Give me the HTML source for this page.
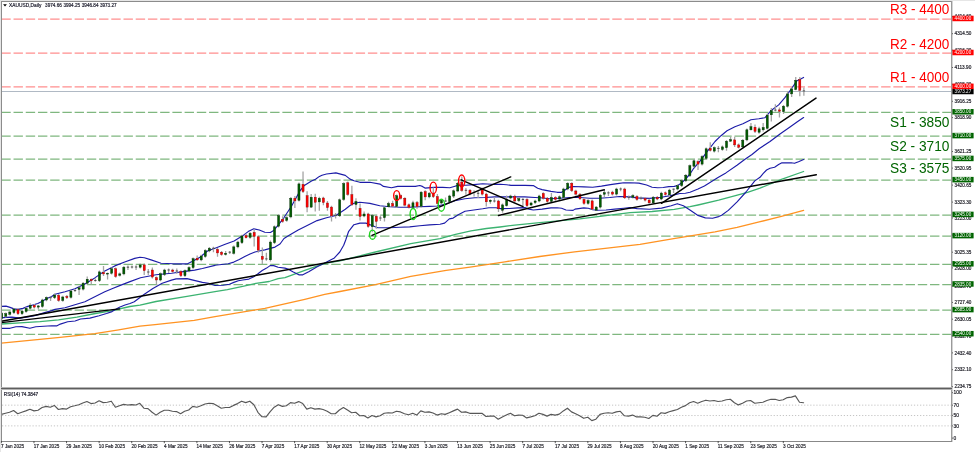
<!DOCTYPE html><html><head><meta charset="utf-8"><title>XAUUSD Daily</title><style>
html,body{margin:0;padding:0;background:#fff;}body{width:975px;height:452px;overflow:hidden;}
svg{display:block;}
text{font-family:"Liberation Sans",Arial,sans-serif;}.th{stroke:#1a1a2a;stroke-width:0.18px;}
.ax{font-size:4.9px;fill:#222;}
.bl{font-size:4.6px;fill:#fff;}
.dt{font-size:5.3px;fill:#222;}
.big{font-size:14.5px;}
</style></head><body>
<svg width="975" height="452" viewBox="0 0 975 452">
<rect x="0" y="0" width="975" height="452" fill="#fff"/>
<rect x="0" y="0" width="1" height="452" fill="#e6e6e6"/>
<rect x="0" y="0" width="975" height="1" fill="#e6e6e6"/>
<defs><clipPath id="cm"><rect x="1.5" y="1.5" width="950" height="386"/></clipPath><clipPath id="cr"><rect x="1.5" y="389.5" width="950" height="51.5"/></clipPath></defs>
<g clip-path="url(#cm)">
<line x1="1.3" y1="19.07" x2="951" y2="19.07" stroke="#ff8e8e" stroke-width="1.35" stroke-dasharray="9.4 2.82"/>
<line x1="1.3" y1="53.10" x2="951" y2="53.10" stroke="#ff8e8e" stroke-width="1.35" stroke-dasharray="9.4 2.82"/>
<line x1="1.3" y1="86.93" x2="951" y2="86.93" stroke="#ff8e8e" stroke-width="1.35" stroke-dasharray="9.4 2.82"/>
<line x1="1.3" y1="112.36" x2="951" y2="112.36" stroke="#7fb77f" stroke-width="1.25" stroke-dasharray="9.4 2.82"/>
<line x1="1.3" y1="136.20" x2="951" y2="136.20" stroke="#7fb77f" stroke-width="1.25" stroke-dasharray="9.4 2.82"/>
<line x1="1.3" y1="159.03" x2="951" y2="159.03" stroke="#7fb77f" stroke-width="1.25" stroke-dasharray="9.4 2.82"/>
<line x1="1.3" y1="180.24" x2="951" y2="180.24" stroke="#7fb77f" stroke-width="1.25" stroke-dasharray="9.4 2.82"/>
<line x1="1.3" y1="215.02" x2="951" y2="215.02" stroke="#7fb77f" stroke-width="1.25" stroke-dasharray="9.4 2.82"/>
<line x1="1.3" y1="236.22" x2="951" y2="236.22" stroke="#7fb77f" stroke-width="1.25" stroke-dasharray="9.4 2.82"/>
<line x1="1.3" y1="264.40" x2="951" y2="264.40" stroke="#7fb77f" stroke-width="1.25" stroke-dasharray="9.4 2.82"/>
<line x1="1.3" y1="284.57" x2="951" y2="284.57" stroke="#7fb77f" stroke-width="1.25" stroke-dasharray="9.4 2.82"/>
<line x1="1.3" y1="310.20" x2="951" y2="310.20" stroke="#7fb77f" stroke-width="1.25" stroke-dasharray="9.4 2.82"/>
<line x1="1.3" y1="334.30" x2="951" y2="334.30" stroke="#7fb77f" stroke-width="1.25" stroke-dasharray="9.4 2.82"/>
<line x1="1" y1="91.45" x2="951" y2="91.45" stroke="#b0b9c4" stroke-width="1.1"/>
<polyline points="1.3,343.1 39.8,339.3 60.0,337.3 94.8,333.6 118.7,329.8 130.0,327.8 140.0,326.2 155.0,324.6 194.2,320.3 215.0,316.6 245.0,311.7 264.9,308.3 284.8,303.8 304.8,299.3 324.7,294.4 340.0,291.5 375.4,284.6 410.8,276.3 446.2,270.4 470.0,267.1 504.9,261.8 539.7,256.5 574.6,251.8 609.5,247.8 640.0,244.3 673.7,238.6 715.0,231.8 737.1,227.4 759.2,221.9 781.4,216.3 803.6,210.4" fill="none" stroke="#ff9322" stroke-width="1.35" stroke-linejoin="round" stroke-linecap="round"/>
<polyline points="1.5,324.0 19.9,322.9 40.0,321.6 58.5,319.9 76.9,317.2 95.4,313.5 112.0,310.7 130.0,306.5 140.0,305.2 156.0,301.5 187.0,296.4 215.0,291.7 227.4,289.6 242.7,286.4 256.0,283.3 269.2,281.5 278.1,278.7 285.0,277.6 304.8,270.3 324.7,263.4 340.0,260.8 375.4,252.0 410.8,243.7 440.0,238.6 455.5,234.3 471.0,230.9 486.4,228.5 500.0,227.0 514.7,225.1 539.7,222.7 579.8,218.8 630.0,212.6 652.1,211.5 674.3,209.3 690.0,206.7 698.0,205.0 718.7,200.2 747.5,192.3 760.0,188.2 781.4,179.4 803.6,171.5" fill="none" stroke="#3cb371" stroke-width="1.3" stroke-linejoin="round" stroke-linecap="round"/>
<polyline points="1.5,328.3 10.0,328.3 15.9,326.8 21.9,326.6 29.9,328.3 35.8,326.8 43.8,326.3 51.7,325.8 56.6,325.9 60.3,324.1 67.7,321.8 75.1,321.0 80.6,319.0 89.9,318.1 99.1,315.8 106.5,313.5 112.0,311.6 119.4,307.2 125.0,305.0 130.0,303.5 134.3,301.8 143.6,294.8 152.9,288.6 162.2,283.2 171.5,280.1 176.1,278.9 187.0,278.6 193.1,280.1 202.4,282.4 208.6,283.2 215.0,285.5 223.0,285.3 229.4,284.2 233.8,282.4 238.3,280.7 242.7,280.0 248.9,279.1 253.3,277.1 257.7,274.0 262.2,270.5 266.6,268.1 270.1,265.6 273.7,265.6 278.1,267.2 285.0,268.1 288.0,269.0 292.8,271.8 298.8,274.8 302.8,274.8 308.7,271.8 316.7,266.9 324.7,262.9 334.4,257.9 339.8,252.0 343.7,245.3 345.7,240.0 348.5,231.7 353.9,224.7 359.9,223.1 365.9,223.1 371.9,225.5 377.8,227.7 389.8,227.7 399.8,227.3 409.7,226.9 419.7,225.7 429.6,224.9 440.0,224.3 444.6,223.1 449.3,218.9 453.2,218.1 457.8,215.0 465.0,211.3 473.8,210.0 482.7,208.8 488.9,207.7 496.0,207.7 500.4,208.6 509.2,208.5 518.1,207.9 525.0,207.6 528.8,209.1 533.3,210.0 542.1,209.1 551.0,207.9 557.2,207.7 561.6,208.2 566.0,210.0 573.1,210.4 575.0,209.1 583.8,207.9 588.3,208.2 592.7,209.7 597.1,210.2 606.0,210.0 614.8,209.1 623.7,208.2 630.0,207.6 637.2,208.6 649.3,209.3 661.5,208.1 671.2,205.7 677.3,203.7 683.4,205.7 690.7,210.6 698.0,215.4 705.3,217.9 712.6,218.3 718.7,216.6 721.6,215.2 728.3,210.4 737.1,201.9 746.0,192.0 754.8,180.9 760.0,177.3 763.3,173.3 766.6,170.0 770.0,168.3 774.6,167.3 778.6,164.6 781.9,162.8 786.5,162.8 791.2,162.8 794.5,163.3 798.5,161.7 803.6,159.5" fill="none" stroke="#1c1ca8" stroke-width="1.15" stroke-linejoin="round" stroke-linecap="round"/>
<polyline points="1.5,317.9 6.0,317.4 11.9,317.1 19.9,318.1 27.9,316.9 35.8,315.4 43.8,312.9 51.7,310.6 55.0,309.4 65.0,307.8 74.9,304.8 84.9,301.8 94.8,296.8 104.8,291.8 113.2,288.2 120.9,285.1 130.0,281.6 140.5,277.8 156.0,274.7 171.5,273.2 187.0,271.1 194.7,270.1 202.4,268.5 215.0,265.4 215.0,265.2 228.2,263.8 233.8,262.1 239.3,259.6 244.8,256.6 250.0,254.0 255.0,252.0 259.3,251.0 264.8,249.9 275.0,247.1 280.0,244.0 284.0,238.5 288.8,235.6 298.2,230.0 307.7,225.3 317.1,220.6 326.5,217.7 335.9,215.5 345.3,209.3 350.0,205.5 354.0,203.2 359.9,202.2 369.9,203.4 379.8,205.8 389.8,206.8 399.8,207.2 409.7,207.2 419.7,206.8 429.6,206.4 437.0,206.0 445.0,204.2 454.9,200.8 464.9,198.8 474.8,197.8 484.8,197.5 494.8,196.9 504.7,196.9 514.7,196.9 524.6,196.9 535.0,197.5 540.0,197.8 549.9,198.8 559.9,198.2 569.8,197.5 579.8,197.5 589.8,198.2 599.7,198.2 609.7,197.5 619.6,196.5 630.0,196.9 637.2,197.9 649.3,198.4 661.5,197.2 674.3,194.9 679.8,193.5 685.4,193.2 690.0,192.3 698.0,189.0 704.4,185.9 711.6,181.6 718.0,177.6 725.9,172.9 737.0,165.2 745.0,159.3 752.0,154.5 759.0,148.8 770.0,141.5 780.0,134.0 790.0,127.0 797.0,122.0 803.6,117.6" fill="none" stroke="#1c1ca8" stroke-width="1.15" stroke-linejoin="round" stroke-linecap="round"/>
<polyline points="1.5,306.4 6.0,306.1 10.0,307.4 14.0,308.9 17.9,309.4 22.9,308.4 27.9,306.4 32.8,305.0 37.8,303.5 41.8,301.5 46.8,298.5 51.7,296.5 55.0,294.2 65.0,291.8 74.9,288.8 84.9,283.9 94.8,277.9 104.8,270.9 114.8,265.9 124.7,262.0 134.7,258.4 140.0,257.2 144.4,257.7 151.1,259.9 161.0,263.3 173.2,263.8 187.6,263.8 192.0,261.6 200.0,257.2 207.5,251.0 216.4,247.7 225.2,244.3 234.1,241.0 243.8,234.9 248.2,231.6 253.8,228.8 259.3,230.0 264.8,232.2 270.4,232.5 273.7,230.5 276.9,226.6 283.9,217.8 291.6,206.0 295.6,198.7 300.3,190.3 304.3,185.5 308.3,183.1 311.5,181.1 315.5,179.2 319.4,176.4 322.0,175.2 326.5,174.0 335.9,172.9 345.3,175.4 350.0,179.1 354.0,180.8 359.9,182.3 369.9,182.3 380.0,184.1 383.5,186.4 391.5,187.7 397.7,186.4 406.5,186.4 415.4,186.4 419.8,185.5 422.4,186.4 425.0,188.1 433.8,187.4 442.7,187.4 449.8,187.8 454.2,186.5 457.7,185.4 462.1,185.0 466.0,185.2 473.8,184.6 482.7,183.8 491.5,184.3 500.4,184.3 506.6,184.7 511.0,185.4 518.1,185.4 525.0,185.4 533.3,185.6 537.7,188.3 542.1,189.6 551.0,191.4 557.2,192.3 561.6,192.3 565.1,190.0 568.7,187.4 573.1,186.5 583.8,186.9 592.7,187.2 601.5,186.1 610.4,184.6 619.2,183.4 623.7,182.8 630.0,182.8 638.9,183.1 646.6,185.0 652.1,187.2 657.7,187.7 663.2,187.5 668.8,186.6 674.3,186.4 677.6,185.5 682.0,182.7 686.0,178.5 690.0,174.0 693.1,169.2 700.4,160.7 707.7,150.9 715.0,141.5 721.0,135.7 727.0,130.8 734.9,126.8 742.9,123.8 750.9,119.8 758.8,118.8 764.8,117.8 770.8,110.8 778.7,104.9 784.7,97.9 790.7,89.9 796.7,81.0 803.6,77.4" fill="none" stroke="#1c1ca8" stroke-width="1.15" stroke-linejoin="round" stroke-linecap="round"/>
<line x1="1.70" y1="311.9" x2="1.70" y2="319.9" stroke="#a4a4a4" stroke-width="1.3"/>
<line x1="5.77" y1="312.4" x2="5.77" y2="317.6" stroke="#a4a4a4" stroke-width="1.3"/>
<line x1="9.84" y1="310.7" x2="9.84" y2="315.6" stroke="#a4a4a4" stroke-width="1.3"/>
<line x1="13.92" y1="308.2" x2="13.92" y2="313.9" stroke="#a4a4a4" stroke-width="1.3"/>
<line x1="17.99" y1="308.3" x2="17.99" y2="315.0" stroke="#a4a4a4" stroke-width="1.3"/>
<line x1="22.06" y1="309.9" x2="22.06" y2="315.0" stroke="#a4a4a4" stroke-width="1.3"/>
<line x1="26.13" y1="306.9" x2="26.13" y2="312.8" stroke="#a4a4a4" stroke-width="1.3"/>
<line x1="30.20" y1="303.2" x2="30.20" y2="309.5" stroke="#a4a4a4" stroke-width="1.3"/>
<line x1="34.28" y1="303.9" x2="34.28" y2="308.4" stroke="#a4a4a4" stroke-width="1.3"/>
<line x1="38.35" y1="305.2" x2="38.35" y2="309.4" stroke="#a4a4a4" stroke-width="1.3"/>
<line x1="42.42" y1="298.7" x2="42.42" y2="307.8" stroke="#a4a4a4" stroke-width="1.3"/>
<line x1="46.49" y1="296.4" x2="46.49" y2="301.3" stroke="#a4a4a4" stroke-width="1.3"/>
<line x1="50.56" y1="296.6" x2="50.56" y2="301.0" stroke="#a4a4a4" stroke-width="1.3"/>
<line x1="54.64" y1="293.5" x2="54.64" y2="299.0" stroke="#a4a4a4" stroke-width="1.3"/>
<line x1="58.71" y1="294.0" x2="58.71" y2="301.8" stroke="#a4a4a4" stroke-width="1.3"/>
<line x1="62.78" y1="295.7" x2="62.78" y2="301.8" stroke="#a4a4a4" stroke-width="1.3"/>
<line x1="66.85" y1="295.1" x2="66.85" y2="299.0" stroke="#a4a4a4" stroke-width="1.3"/>
<line x1="70.92" y1="289.7" x2="70.92" y2="298.6" stroke="#a4a4a4" stroke-width="1.3"/>
<line x1="75.00" y1="289.0" x2="75.00" y2="292.0" stroke="#a4a4a4" stroke-width="1.3"/>
<line x1="79.07" y1="286.5" x2="79.07" y2="295.0" stroke="#a4a4a4" stroke-width="1.3"/>
<line x1="83.14" y1="281.9" x2="83.14" y2="290.4" stroke="#a4a4a4" stroke-width="1.3"/>
<line x1="87.21" y1="276.5" x2="87.21" y2="284.5" stroke="#a4a4a4" stroke-width="1.3"/>
<line x1="91.28" y1="278.5" x2="91.28" y2="284.5" stroke="#a4a4a4" stroke-width="1.3"/>
<line x1="95.36" y1="278.5" x2="95.36" y2="281.8" stroke="#a4a4a4" stroke-width="1.3"/>
<line x1="99.43" y1="270.6" x2="99.43" y2="282.1" stroke="#a4a4a4" stroke-width="1.3"/>
<line x1="103.50" y1="266.0" x2="103.50" y2="276.0" stroke="#a4a4a4" stroke-width="1.3"/>
<line x1="107.57" y1="272.5" x2="107.57" y2="279.5" stroke="#a4a4a4" stroke-width="1.3"/>
<line x1="111.64" y1="267.5" x2="111.64" y2="274.5" stroke="#a4a4a4" stroke-width="1.3"/>
<line x1="115.72" y1="267.5" x2="115.72" y2="277.8" stroke="#a4a4a4" stroke-width="1.3"/>
<line x1="119.79" y1="272.6" x2="119.79" y2="276.5" stroke="#a4a4a4" stroke-width="1.3"/>
<line x1="123.86" y1="265.9" x2="123.86" y2="275.2" stroke="#a4a4a4" stroke-width="1.3"/>
<line x1="127.93" y1="265.6" x2="127.93" y2="269.9" stroke="#a4a4a4" stroke-width="1.3"/>
<line x1="132.00" y1="265.6" x2="132.00" y2="268.6" stroke="#a4a4a4" stroke-width="1.3"/>
<line x1="136.08" y1="265.3" x2="136.08" y2="269.9" stroke="#a4a4a4" stroke-width="1.3"/>
<line x1="140.15" y1="263.6" x2="140.15" y2="268.5" stroke="#a4a4a4" stroke-width="1.3"/>
<line x1="144.22" y1="263.6" x2="144.22" y2="275.0" stroke="#a4a4a4" stroke-width="1.3"/>
<line x1="148.29" y1="269.0" x2="148.29" y2="275.0" stroke="#a4a4a4" stroke-width="1.3"/>
<line x1="152.36" y1="267.6" x2="152.36" y2="278.5" stroke="#a4a4a4" stroke-width="1.3"/>
<line x1="156.44" y1="276.4" x2="156.44" y2="284.7" stroke="#a4a4a4" stroke-width="1.3"/>
<line x1="160.51" y1="272.5" x2="160.51" y2="281.3" stroke="#a4a4a4" stroke-width="1.3"/>
<line x1="164.58" y1="268.7" x2="164.58" y2="275.9" stroke="#a4a4a4" stroke-width="1.3"/>
<line x1="168.65" y1="268.4" x2="168.65" y2="273.0" stroke="#a4a4a4" stroke-width="1.3"/>
<line x1="172.72" y1="268.7" x2="172.72" y2="272.8" stroke="#a4a4a4" stroke-width="1.3"/>
<line x1="176.80" y1="268.4" x2="176.80" y2="273.8" stroke="#a4a4a4" stroke-width="1.3"/>
<line x1="180.87" y1="270.2" x2="180.87" y2="277.0" stroke="#a4a4a4" stroke-width="1.3"/>
<line x1="184.94" y1="269.4" x2="184.94" y2="277.0" stroke="#a4a4a4" stroke-width="1.3"/>
<line x1="189.01" y1="266.3" x2="189.01" y2="272.3" stroke="#a4a4a4" stroke-width="1.3"/>
<line x1="193.08" y1="257.4" x2="193.08" y2="268.9" stroke="#a4a4a4" stroke-width="1.3"/>
<line x1="197.16" y1="255.6" x2="197.16" y2="260.7" stroke="#a4a4a4" stroke-width="1.3"/>
<line x1="201.23" y1="254.7" x2="201.23" y2="261.2" stroke="#a4a4a4" stroke-width="1.3"/>
<line x1="205.30" y1="249.3" x2="205.30" y2="257.8" stroke="#a4a4a4" stroke-width="1.3"/>
<line x1="209.37" y1="247.0" x2="209.37" y2="252.2" stroke="#a4a4a4" stroke-width="1.3"/>
<line x1="213.44" y1="246.7" x2="213.44" y2="252.2" stroke="#a4a4a4" stroke-width="1.3"/>
<line x1="217.52" y1="248.1" x2="217.52" y2="256.8" stroke="#a4a4a4" stroke-width="1.3"/>
<line x1="221.59" y1="250.9" x2="221.59" y2="255.8" stroke="#a4a4a4" stroke-width="1.3"/>
<line x1="225.66" y1="251.0" x2="225.66" y2="255.5" stroke="#a4a4a4" stroke-width="1.3"/>
<line x1="229.73" y1="251.0" x2="229.73" y2="254.0" stroke="#a4a4a4" stroke-width="1.3"/>
<line x1="233.80" y1="245.6" x2="233.80" y2="254.6" stroke="#a4a4a4" stroke-width="1.3"/>
<line x1="237.88" y1="240.8" x2="237.88" y2="248.2" stroke="#a4a4a4" stroke-width="1.3"/>
<line x1="241.95" y1="234.7" x2="241.95" y2="244.0" stroke="#a4a4a4" stroke-width="1.3"/>
<line x1="246.02" y1="233.8" x2="246.02" y2="238.6" stroke="#a4a4a4" stroke-width="1.3"/>
<line x1="250.09" y1="232.0" x2="250.09" y2="238.7" stroke="#a4a4a4" stroke-width="1.3"/>
<line x1="254.16" y1="229.8" x2="254.16" y2="246.6" stroke="#a4a4a4" stroke-width="1.3"/>
<line x1="258.24" y1="235.5" x2="258.24" y2="252.8" stroke="#a4a4a4" stroke-width="1.3"/>
<line x1="262.31" y1="247.5" x2="262.31" y2="263.9" stroke="#a4a4a4" stroke-width="1.3"/>
<line x1="266.38" y1="252.8" x2="266.38" y2="260.7" stroke="#a4a4a4" stroke-width="1.3"/>
<line x1="270.45" y1="240.4" x2="270.45" y2="261.6" stroke="#a4a4a4" stroke-width="1.3"/>
<line x1="274.52" y1="225.5" x2="274.52" y2="244.0" stroke="#a4a4a4" stroke-width="1.3"/>
<line x1="278.60" y1="214.3" x2="278.60" y2="227.5" stroke="#a4a4a4" stroke-width="1.3"/>
<line x1="282.67" y1="216.2" x2="282.67" y2="222.7" stroke="#a4a4a4" stroke-width="1.3"/>
<line x1="286.74" y1="216.3" x2="286.74" y2="221.7" stroke="#a4a4a4" stroke-width="1.3"/>
<line x1="290.81" y1="197.0" x2="290.81" y2="218.2" stroke="#a4a4a4" stroke-width="1.3"/>
<line x1="294.88" y1="196.0" x2="294.88" y2="208.0" stroke="#a4a4a4" stroke-width="1.3"/>
<line x1="298.96" y1="182.6" x2="298.96" y2="201.6" stroke="#a4a4a4" stroke-width="1.3"/>
<line x1="303.03" y1="171.5" x2="303.03" y2="192.9" stroke="#a4a4a4" stroke-width="1.3"/>
<line x1="307.10" y1="191.3" x2="307.10" y2="212.2" stroke="#a4a4a4" stroke-width="1.3"/>
<line x1="311.17" y1="194.1" x2="311.17" y2="208.0" stroke="#a4a4a4" stroke-width="1.3"/>
<line x1="315.24" y1="193.7" x2="315.24" y2="211.5" stroke="#a4a4a4" stroke-width="1.3"/>
<line x1="319.32" y1="196.7" x2="319.32" y2="210.7" stroke="#a4a4a4" stroke-width="1.3"/>
<line x1="323.39" y1="196.7" x2="323.39" y2="205.3" stroke="#a4a4a4" stroke-width="1.3"/>
<line x1="327.46" y1="200.9" x2="327.46" y2="210.7" stroke="#a4a4a4" stroke-width="1.3"/>
<line x1="331.53" y1="205.8" x2="331.53" y2="221.5" stroke="#a4a4a4" stroke-width="1.3"/>
<line x1="335.60" y1="213.0" x2="335.60" y2="218.4" stroke="#a4a4a4" stroke-width="1.3"/>
<line x1="339.68" y1="198.5" x2="339.68" y2="217.1" stroke="#a4a4a4" stroke-width="1.3"/>
<line x1="343.75" y1="182.3" x2="343.75" y2="200.7" stroke="#a4a4a4" stroke-width="1.3"/>
<line x1="347.82" y1="181.5" x2="347.82" y2="195.7" stroke="#a4a4a4" stroke-width="1.3"/>
<line x1="351.89" y1="185.8" x2="351.89" y2="206.0" stroke="#a4a4a4" stroke-width="1.3"/>
<line x1="355.96" y1="198.2" x2="355.96" y2="209.8" stroke="#a4a4a4" stroke-width="1.3"/>
<line x1="360.04" y1="203.5" x2="360.04" y2="220.6" stroke="#a4a4a4" stroke-width="1.3"/>
<line x1="364.11" y1="211.4" x2="364.11" y2="217.2" stroke="#a4a4a4" stroke-width="1.3"/>
<line x1="368.18" y1="212.7" x2="368.18" y2="227.7" stroke="#a4a4a4" stroke-width="1.3"/>
<line x1="372.25" y1="213.9" x2="372.25" y2="232.2" stroke="#a4a4a4" stroke-width="1.3"/>
<line x1="376.32" y1="214.8" x2="376.32" y2="228.8" stroke="#a4a4a4" stroke-width="1.3"/>
<line x1="380.40" y1="215.6" x2="380.40" y2="221.0" stroke="#a4a4a4" stroke-width="1.3"/>
<line x1="384.47" y1="206.5" x2="384.47" y2="221.4" stroke="#a4a4a4" stroke-width="1.3"/>
<line x1="388.54" y1="201.8" x2="388.54" y2="207.3" stroke="#a4a4a4" stroke-width="1.3"/>
<line x1="392.61" y1="200.7" x2="392.61" y2="207.3" stroke="#a4a4a4" stroke-width="1.3"/>
<line x1="396.68" y1="194.5" x2="396.68" y2="207.8" stroke="#a4a4a4" stroke-width="1.3"/>
<line x1="400.76" y1="194.4" x2="400.76" y2="199.5" stroke="#a4a4a4" stroke-width="1.3"/>
<line x1="404.83" y1="197.3" x2="404.83" y2="206.5" stroke="#a4a4a4" stroke-width="1.3"/>
<line x1="408.90" y1="203.5" x2="408.90" y2="208.6" stroke="#a4a4a4" stroke-width="1.3"/>
<line x1="412.97" y1="200.7" x2="412.97" y2="209.0" stroke="#a4a4a4" stroke-width="1.3"/>
<line x1="417.04" y1="201.0" x2="417.04" y2="208.8" stroke="#a4a4a4" stroke-width="1.3"/>
<line x1="421.12" y1="190.9" x2="421.12" y2="207.5" stroke="#a4a4a4" stroke-width="1.3"/>
<line x1="425.19" y1="190.2" x2="425.19" y2="200.3" stroke="#a4a4a4" stroke-width="1.3"/>
<line x1="429.26" y1="192.0" x2="429.26" y2="198.2" stroke="#a4a4a4" stroke-width="1.3"/>
<line x1="433.33" y1="187.4" x2="433.33" y2="198.0" stroke="#a4a4a4" stroke-width="1.3"/>
<line x1="437.40" y1="194.0" x2="437.40" y2="204.3" stroke="#a4a4a4" stroke-width="1.3"/>
<line x1="441.48" y1="199.0" x2="441.48" y2="204.3" stroke="#a4a4a4" stroke-width="1.3"/>
<line x1="445.55" y1="197.5" x2="445.55" y2="202.0" stroke="#a4a4a4" stroke-width="1.3"/>
<line x1="449.62" y1="194.7" x2="449.62" y2="202.9" stroke="#a4a4a4" stroke-width="1.3"/>
<line x1="453.69" y1="189.5" x2="453.69" y2="198.0" stroke="#a4a4a4" stroke-width="1.3"/>
<line x1="457.76" y1="182.0" x2="457.76" y2="192.3" stroke="#a4a4a4" stroke-width="1.3"/>
<line x1="461.84" y1="176.5" x2="461.84" y2="191.8" stroke="#a4a4a4" stroke-width="1.3"/>
<line x1="465.91" y1="187.9" x2="465.91" y2="194.8" stroke="#a4a4a4" stroke-width="1.3"/>
<line x1="469.98" y1="188.9" x2="469.98" y2="195.2" stroke="#a4a4a4" stroke-width="1.3"/>
<line x1="474.05" y1="190.2" x2="474.05" y2="196.4" stroke="#a4a4a4" stroke-width="1.3"/>
<line x1="478.12" y1="190.2" x2="478.12" y2="198.0" stroke="#a4a4a4" stroke-width="1.3"/>
<line x1="482.20" y1="187.4" x2="482.20" y2="195.4" stroke="#a4a4a4" stroke-width="1.3"/>
<line x1="486.27" y1="192.8" x2="486.27" y2="206.5" stroke="#a4a4a4" stroke-width="1.3"/>
<line x1="490.34" y1="199.2" x2="490.34" y2="203.8" stroke="#a4a4a4" stroke-width="1.3"/>
<line x1="494.41" y1="197.2" x2="494.41" y2="202.6" stroke="#a4a4a4" stroke-width="1.3"/>
<line x1="498.48" y1="199.7" x2="498.48" y2="211.9" stroke="#a4a4a4" stroke-width="1.3"/>
<line x1="502.56" y1="203.4" x2="502.56" y2="212.7" stroke="#a4a4a4" stroke-width="1.3"/>
<line x1="506.63" y1="195.6" x2="506.63" y2="206.5" stroke="#a4a4a4" stroke-width="1.3"/>
<line x1="510.70" y1="194.7" x2="510.70" y2="199.3" stroke="#a4a4a4" stroke-width="1.3"/>
<line x1="514.77" y1="194.8" x2="514.77" y2="201.8" stroke="#a4a4a4" stroke-width="1.3"/>
<line x1="518.84" y1="197.4" x2="518.84" y2="201.9" stroke="#a4a4a4" stroke-width="1.3"/>
<line x1="522.92" y1="198.0" x2="522.92" y2="206.5" stroke="#a4a4a4" stroke-width="1.3"/>
<line x1="526.99" y1="198.2" x2="526.99" y2="207.0" stroke="#a4a4a4" stroke-width="1.3"/>
<line x1="531.06" y1="201.7" x2="531.06" y2="206.3" stroke="#a4a4a4" stroke-width="1.3"/>
<line x1="535.13" y1="199.7" x2="535.13" y2="203.9" stroke="#a4a4a4" stroke-width="1.3"/>
<line x1="539.20" y1="194.7" x2="539.20" y2="202.3" stroke="#a4a4a4" stroke-width="1.3"/>
<line x1="543.28" y1="192.2" x2="543.28" y2="199.5" stroke="#a4a4a4" stroke-width="1.3"/>
<line x1="547.35" y1="197.0" x2="547.35" y2="202.7" stroke="#a4a4a4" stroke-width="1.3"/>
<line x1="551.42" y1="192.9" x2="551.42" y2="202.2" stroke="#a4a4a4" stroke-width="1.3"/>
<line x1="555.49" y1="196.2" x2="555.49" y2="200.7" stroke="#a4a4a4" stroke-width="1.3"/>
<line x1="559.56" y1="195.5" x2="559.56" y2="200.3" stroke="#a4a4a4" stroke-width="1.3"/>
<line x1="563.64" y1="187.7" x2="563.64" y2="198.8" stroke="#a4a4a4" stroke-width="1.3"/>
<line x1="567.71" y1="182.3" x2="567.71" y2="190.3" stroke="#a4a4a4" stroke-width="1.3"/>
<line x1="571.78" y1="182.3" x2="571.78" y2="191.9" stroke="#a4a4a4" stroke-width="1.3"/>
<line x1="575.85" y1="189.7" x2="575.85" y2="195.4" stroke="#a4a4a4" stroke-width="1.3"/>
<line x1="579.92" y1="192.9" x2="579.92" y2="199.9" stroke="#a4a4a4" stroke-width="1.3"/>
<line x1="584.00" y1="198.1" x2="584.00" y2="204.7" stroke="#a4a4a4" stroke-width="1.3"/>
<line x1="588.07" y1="199.3" x2="588.07" y2="204.7" stroke="#a4a4a4" stroke-width="1.3"/>
<line x1="592.14" y1="199.6" x2="592.14" y2="209.9" stroke="#a4a4a4" stroke-width="1.3"/>
<line x1="596.21" y1="206.0" x2="596.21" y2="210.7" stroke="#a4a4a4" stroke-width="1.3"/>
<line x1="600.28" y1="193.9" x2="600.28" y2="208.4" stroke="#a4a4a4" stroke-width="1.3"/>
<line x1="604.36" y1="189.8" x2="604.36" y2="197.2" stroke="#a4a4a4" stroke-width="1.3"/>
<line x1="608.43" y1="191.3" x2="608.43" y2="196.0" stroke="#a4a4a4" stroke-width="1.3"/>
<line x1="612.50" y1="190.8" x2="612.50" y2="195.4" stroke="#a4a4a4" stroke-width="1.3"/>
<line x1="616.57" y1="187.7" x2="616.57" y2="195.4" stroke="#a4a4a4" stroke-width="1.3"/>
<line x1="620.64" y1="187.5" x2="620.64" y2="191.3" stroke="#a4a4a4" stroke-width="1.3"/>
<line x1="624.72" y1="187.7" x2="624.72" y2="199.1" stroke="#a4a4a4" stroke-width="1.3"/>
<line x1="628.79" y1="195.6" x2="628.79" y2="199.8" stroke="#a4a4a4" stroke-width="1.3"/>
<line x1="632.86" y1="194.3" x2="632.86" y2="198.6" stroke="#a4a4a4" stroke-width="1.3"/>
<line x1="636.93" y1="195.2" x2="636.93" y2="200.7" stroke="#a4a4a4" stroke-width="1.3"/>
<line x1="641.00" y1="196.5" x2="641.00" y2="199.8" stroke="#a4a4a4" stroke-width="1.3"/>
<line x1="645.08" y1="197.2" x2="645.08" y2="201.4" stroke="#a4a4a4" stroke-width="1.3"/>
<line x1="649.15" y1="198.8" x2="649.15" y2="204.1" stroke="#a4a4a4" stroke-width="1.3"/>
<line x1="653.22" y1="196.0" x2="653.22" y2="204.1" stroke="#a4a4a4" stroke-width="1.3"/>
<line x1="657.29" y1="196.0" x2="657.29" y2="200.3" stroke="#a4a4a4" stroke-width="1.3"/>
<line x1="661.36" y1="191.8" x2="661.36" y2="200.3" stroke="#a4a4a4" stroke-width="1.3"/>
<line x1="665.44" y1="191.5" x2="665.44" y2="195.8" stroke="#a4a4a4" stroke-width="1.3"/>
<line x1="669.51" y1="188.8" x2="669.51" y2="196.1" stroke="#a4a4a4" stroke-width="1.3"/>
<line x1="673.58" y1="188.5" x2="673.58" y2="193.1" stroke="#a4a4a4" stroke-width="1.3"/>
<line x1="677.65" y1="184.4" x2="677.65" y2="190.3" stroke="#a4a4a4" stroke-width="1.3"/>
<line x1="681.72" y1="179.4" x2="681.72" y2="187.0" stroke="#a4a4a4" stroke-width="1.3"/>
<line x1="685.80" y1="173.9" x2="685.80" y2="182.0" stroke="#a4a4a4" stroke-width="1.3"/>
<line x1="689.87" y1="164.4" x2="689.87" y2="177.0" stroke="#a4a4a4" stroke-width="1.3"/>
<line x1="693.94" y1="159.1" x2="693.94" y2="167.5" stroke="#a4a4a4" stroke-width="1.3"/>
<line x1="698.01" y1="160.3" x2="698.01" y2="169.9" stroke="#a4a4a4" stroke-width="1.3"/>
<line x1="702.08" y1="155.3" x2="702.08" y2="165.4" stroke="#a4a4a4" stroke-width="1.3"/>
<line x1="706.16" y1="147.5" x2="706.16" y2="159.7" stroke="#a4a4a4" stroke-width="1.3"/>
<line x1="710.23" y1="142.2" x2="710.23" y2="151.5" stroke="#a4a4a4" stroke-width="1.3"/>
<line x1="714.30" y1="146.4" x2="714.30" y2="152.4" stroke="#a4a4a4" stroke-width="1.3"/>
<line x1="718.37" y1="146.1" x2="718.37" y2="152.3" stroke="#a4a4a4" stroke-width="1.3"/>
<line x1="722.44" y1="145.6" x2="722.44" y2="150.8" stroke="#a4a4a4" stroke-width="1.3"/>
<line x1="726.52" y1="139.9" x2="726.52" y2="150.8" stroke="#a4a4a4" stroke-width="1.3"/>
<line x1="730.59" y1="136.8" x2="730.59" y2="141.5" stroke="#a4a4a4" stroke-width="1.3"/>
<line x1="734.66" y1="136.8" x2="734.66" y2="146.9" stroke="#a4a4a4" stroke-width="1.3"/>
<line x1="738.73" y1="143.6" x2="738.73" y2="148.6" stroke="#a4a4a4" stroke-width="1.3"/>
<line x1="742.80" y1="138.9" x2="742.80" y2="148.2" stroke="#a4a4a4" stroke-width="1.3"/>
<line x1="746.88" y1="128.5" x2="746.88" y2="141.2" stroke="#a4a4a4" stroke-width="1.3"/>
<line x1="750.95" y1="122.9" x2="750.95" y2="130.6" stroke="#a4a4a4" stroke-width="1.3"/>
<line x1="755.02" y1="124.4" x2="755.02" y2="132.9" stroke="#a4a4a4" stroke-width="1.3"/>
<line x1="759.09" y1="126.7" x2="759.09" y2="133.7" stroke="#a4a4a4" stroke-width="1.3"/>
<line x1="763.16" y1="122.9" x2="763.16" y2="131.4" stroke="#a4a4a4" stroke-width="1.3"/>
<line x1="767.24" y1="113.8" x2="767.24" y2="129.6" stroke="#a4a4a4" stroke-width="1.3"/>
<line x1="771.31" y1="108.1" x2="771.31" y2="121.4" stroke="#a4a4a4" stroke-width="1.3"/>
<line x1="775.38" y1="104.2" x2="775.38" y2="111.5" stroke="#a4a4a4" stroke-width="1.3"/>
<line x1="779.45" y1="107.5" x2="779.45" y2="117.4" stroke="#a4a4a4" stroke-width="1.3"/>
<line x1="783.52" y1="104.9" x2="783.52" y2="114.1" stroke="#a4a4a4" stroke-width="1.3"/>
<line x1="787.60" y1="91.5" x2="787.60" y2="107.5" stroke="#a4a4a4" stroke-width="1.3"/>
<line x1="791.67" y1="86.9" x2="791.67" y2="96.9" stroke="#a4a4a4" stroke-width="1.3"/>
<line x1="795.74" y1="77.0" x2="795.74" y2="90.2" stroke="#a4a4a4" stroke-width="1.3"/>
<line x1="799.81" y1="77.0" x2="799.81" y2="96.2" stroke="#a4a4a4" stroke-width="1.3"/>
<line x1="803.88" y1="87.6" x2="803.88" y2="95.8" stroke="#a4a4a4" stroke-width="1.3"/>
<rect x="0.65" y="313.2" width="2.1" height="5.4" fill="#005c00" stroke="#002800" stroke-width="0.4"/>
<rect x="4.72" y="313.7" width="2.1" height="2.6" fill="#005c00" stroke="#002800" stroke-width="0.4"/>
<rect x="8.79" y="312.0" width="2.1" height="2.3" fill="#005c00" stroke="#002800" stroke-width="0.4"/>
<rect x="12.87" y="309.0" width="2.1" height="3.6" fill="#005c00" stroke="#002800" stroke-width="0.4"/>
<rect x="16.94" y="309.6" width="2.1" height="4.1" fill="#ff0000" stroke="#8a0000" stroke-width="0.4"/>
<rect x="21.01" y="311.2" width="2.1" height="2.5" fill="#005c00" stroke="#002800" stroke-width="0.4"/>
<rect x="25.08" y="308.2" width="2.1" height="3.3" fill="#005c00" stroke="#002800" stroke-width="0.4"/>
<rect x="29.15" y="305.2" width="2.1" height="3.0" fill="#005c00" stroke="#002800" stroke-width="0.4"/>
<rect x="33.23" y="305.2" width="2.1" height="1.9" fill="#ff0000" stroke="#8a0000" stroke-width="0.4"/>
<rect x="37.30" y="305.9" width="2.1" height="1.2" fill="#005c00" stroke="#002800" stroke-width="0.4"/>
<rect x="41.37" y="300.0" width="2.1" height="6.5" fill="#005c00" stroke="#002800" stroke-width="0.4"/>
<rect x="45.44" y="297.5" width="2.1" height="2.5" fill="#005c00" stroke="#002800" stroke-width="0.4"/>
<line x1="49.36" y1="297.7" x2="51.76" y2="297.7" stroke="#333" stroke-width="0.8"/>
<rect x="53.59" y="295.0" width="2.1" height="2.7" fill="#005c00" stroke="#002800" stroke-width="0.4"/>
<rect x="57.66" y="295.3" width="2.1" height="5.2" fill="#ff0000" stroke="#8a0000" stroke-width="0.4"/>
<rect x="61.73" y="297.0" width="2.1" height="3.5" fill="#005c00" stroke="#002800" stroke-width="0.4"/>
<rect x="65.80" y="296.4" width="2.1" height="1.3" fill="#ff0000" stroke="#8a0000" stroke-width="0.4"/>
<rect x="69.87" y="291.0" width="2.1" height="6.3" fill="#005c00" stroke="#002800" stroke-width="0.4"/>
<line x1="73.80" y1="290.5" x2="76.20" y2="290.5" stroke="#333" stroke-width="0.8"/>
<rect x="78.02" y="287.8" width="2.1" height="1.6" fill="#005c00" stroke="#002800" stroke-width="0.4"/>
<rect x="82.09" y="283.2" width="2.1" height="5.9" fill="#005c00" stroke="#002800" stroke-width="0.4"/>
<rect x="86.16" y="279.2" width="2.1" height="4.0" fill="#005c00" stroke="#002800" stroke-width="0.4"/>
<rect x="90.23" y="279.4" width="2.1" height="1.4" fill="#ff0000" stroke="#8a0000" stroke-width="0.4"/>
<line x1="94.16" y1="280.5" x2="96.56" y2="280.5" stroke="#333" stroke-width="0.8"/>
<rect x="98.38" y="271.9" width="2.1" height="8.9" fill="#005c00" stroke="#002800" stroke-width="0.4"/>
<rect x="102.45" y="272.3" width="2.1" height="1.6" fill="#ff0000" stroke="#8a0000" stroke-width="0.4"/>
<rect x="106.52" y="273.2" width="2.1" height="0.9" fill="#005c00" stroke="#002800" stroke-width="0.4"/>
<rect x="110.59" y="268.8" width="2.1" height="4.4" fill="#005c00" stroke="#002800" stroke-width="0.4"/>
<rect x="114.67" y="268.8" width="2.1" height="7.7" fill="#ff0000" stroke="#8a0000" stroke-width="0.4"/>
<rect x="118.74" y="273.9" width="2.1" height="1.3" fill="#005c00" stroke="#002800" stroke-width="0.4"/>
<rect x="122.81" y="267.2" width="2.1" height="6.7" fill="#005c00" stroke="#002800" stroke-width="0.4"/>
<line x1="126.73" y1="267.2" x2="129.13" y2="267.2" stroke="#333" stroke-width="0.8"/>
<line x1="130.80" y1="267.0" x2="133.20" y2="267.0" stroke="#333" stroke-width="0.8"/>
<line x1="134.88" y1="267.0" x2="137.28" y2="267.0" stroke="#333" stroke-width="0.8"/>
<rect x="139.10" y="264.9" width="2.1" height="2.3" fill="#005c00" stroke="#002800" stroke-width="0.4"/>
<rect x="143.17" y="264.9" width="2.1" height="5.7" fill="#ff0000" stroke="#8a0000" stroke-width="0.4"/>
<line x1="147.09" y1="272.0" x2="149.49" y2="272.0" stroke="#333" stroke-width="0.8"/>
<rect x="151.31" y="270.0" width="2.1" height="7.0" fill="#ff0000" stroke="#8a0000" stroke-width="0.4"/>
<rect x="155.39" y="277.7" width="2.1" height="2.3" fill="#ff0000" stroke="#8a0000" stroke-width="0.4"/>
<rect x="159.46" y="273.8" width="2.1" height="6.2" fill="#005c00" stroke="#002800" stroke-width="0.4"/>
<rect x="163.53" y="270.0" width="2.1" height="4.6" fill="#005c00" stroke="#002800" stroke-width="0.4"/>
<line x1="167.45" y1="270.0" x2="169.85" y2="270.0" stroke="#333" stroke-width="0.8"/>
<rect x="171.67" y="270.0" width="2.1" height="1.5" fill="#ff0000" stroke="#8a0000" stroke-width="0.4"/>
<line x1="175.60" y1="271.0" x2="178.00" y2="271.0" stroke="#333" stroke-width="0.8"/>
<rect x="179.82" y="271.5" width="2.1" height="4.2" fill="#ff0000" stroke="#8a0000" stroke-width="0.4"/>
<rect x="183.89" y="270.7" width="2.1" height="5.0" fill="#005c00" stroke="#002800" stroke-width="0.4"/>
<rect x="187.96" y="267.6" width="2.1" height="3.4" fill="#005c00" stroke="#002800" stroke-width="0.4"/>
<rect x="192.03" y="258.7" width="2.1" height="8.9" fill="#005c00" stroke="#002800" stroke-width="0.4"/>
<rect x="196.11" y="258.3" width="2.1" height="1.6" fill="#ff0000" stroke="#8a0000" stroke-width="0.4"/>
<rect x="200.18" y="256.0" width="2.1" height="3.9" fill="#005c00" stroke="#002800" stroke-width="0.4"/>
<rect x="204.25" y="250.6" width="2.1" height="5.9" fill="#005c00" stroke="#002800" stroke-width="0.4"/>
<rect x="208.32" y="248.3" width="2.1" height="2.6" fill="#005c00" stroke="#002800" stroke-width="0.4"/>
<line x1="212.24" y1="248.3" x2="214.64" y2="248.3" stroke="#333" stroke-width="0.8"/>
<rect x="216.47" y="249.4" width="2.1" height="3.5" fill="#ff0000" stroke="#8a0000" stroke-width="0.4"/>
<rect x="220.54" y="252.2" width="2.1" height="2.3" fill="#ff0000" stroke="#8a0000" stroke-width="0.4"/>
<rect x="224.61" y="253.2" width="2.1" height="1.4" fill="#005c00" stroke="#002800" stroke-width="0.4"/>
<line x1="228.53" y1="252.2" x2="230.93" y2="252.2" stroke="#333" stroke-width="0.8"/>
<rect x="232.75" y="246.9" width="2.1" height="6.4" fill="#005c00" stroke="#002800" stroke-width="0.4"/>
<rect x="236.83" y="242.1" width="2.1" height="4.8" fill="#005c00" stroke="#002800" stroke-width="0.4"/>
<rect x="240.90" y="236.0" width="2.1" height="6.7" fill="#005c00" stroke="#002800" stroke-width="0.4"/>
<rect x="244.97" y="235.6" width="2.1" height="2.1" fill="#ff0000" stroke="#8a0000" stroke-width="0.4"/>
<rect x="249.04" y="233.3" width="2.1" height="4.1" fill="#005c00" stroke="#002800" stroke-width="0.4"/>
<rect x="253.11" y="232.4" width="2.1" height="3.9" fill="#ff0000" stroke="#8a0000" stroke-width="0.4"/>
<rect x="257.19" y="236.8" width="2.1" height="13.3" fill="#ff0000" stroke="#8a0000" stroke-width="0.4"/>
<rect x="261.26" y="256.3" width="2.1" height="3.0" fill="#ff0000" stroke="#8a0000" stroke-width="0.4"/>
<line x1="265.18" y1="258.9" x2="267.58" y2="258.9" stroke="#333" stroke-width="0.8"/>
<rect x="269.40" y="242.1" width="2.1" height="17.7" fill="#005c00" stroke="#002800" stroke-width="0.4"/>
<rect x="273.47" y="226.8" width="2.1" height="15.9" fill="#005c00" stroke="#002800" stroke-width="0.4"/>
<rect x="277.55" y="215.6" width="2.1" height="10.6" fill="#005c00" stroke="#002800" stroke-width="0.4"/>
<rect x="281.62" y="219.2" width="2.1" height="2.3" fill="#ff0000" stroke="#8a0000" stroke-width="0.4"/>
<rect x="285.69" y="217.6" width="2.1" height="2.8" fill="#005c00" stroke="#002800" stroke-width="0.4"/>
<rect x="289.76" y="198.3" width="2.1" height="18.6" fill="#005c00" stroke="#002800" stroke-width="0.4"/>
<rect x="293.83" y="198.3" width="2.1" height="2.6" fill="#ff0000" stroke="#8a0000" stroke-width="0.4"/>
<rect x="297.91" y="183.9" width="2.1" height="16.4" fill="#005c00" stroke="#002800" stroke-width="0.4"/>
<rect x="301.98" y="184.4" width="2.1" height="7.2" fill="#ff0000" stroke="#8a0000" stroke-width="0.4"/>
<rect x="306.05" y="195.7" width="2.1" height="11.4" fill="#ff0000" stroke="#8a0000" stroke-width="0.4"/>
<rect x="310.12" y="197.2" width="2.1" height="9.9" fill="#005c00" stroke="#002800" stroke-width="0.4"/>
<rect x="314.19" y="197.2" width="2.1" height="5.0" fill="#ff0000" stroke="#8a0000" stroke-width="0.4"/>
<rect x="318.27" y="198.3" width="2.1" height="3.6" fill="#005c00" stroke="#002800" stroke-width="0.4"/>
<rect x="322.34" y="198.0" width="2.1" height="4.5" fill="#ff0000" stroke="#8a0000" stroke-width="0.4"/>
<rect x="326.41" y="203.0" width="2.1" height="4.6" fill="#ff0000" stroke="#8a0000" stroke-width="0.4"/>
<rect x="330.48" y="207.1" width="2.1" height="8.7" fill="#ff0000" stroke="#8a0000" stroke-width="0.4"/>
<line x1="334.40" y1="215.3" x2="336.80" y2="215.3" stroke="#333" stroke-width="0.8"/>
<rect x="338.63" y="199.8" width="2.1" height="16.0" fill="#005c00" stroke="#002800" stroke-width="0.4"/>
<rect x="342.70" y="183.6" width="2.1" height="15.8" fill="#005c00" stroke="#002800" stroke-width="0.4"/>
<rect x="346.77" y="182.8" width="2.1" height="11.6" fill="#ff0000" stroke="#8a0000" stroke-width="0.4"/>
<rect x="350.84" y="194.6" width="2.1" height="10.0" fill="#ff0000" stroke="#8a0000" stroke-width="0.4"/>
<rect x="354.91" y="201.5" width="2.1" height="3.0" fill="#005c00" stroke="#002800" stroke-width="0.4"/>
<rect x="358.99" y="208.4" width="2.1" height="8.0" fill="#ff0000" stroke="#8a0000" stroke-width="0.4"/>
<rect x="363.06" y="214.0" width="2.1" height="2.0" fill="#005c00" stroke="#002800" stroke-width="0.4"/>
<rect x="367.13" y="214.0" width="2.1" height="12.4" fill="#ff0000" stroke="#8a0000" stroke-width="0.4"/>
<rect x="371.20" y="215.6" width="2.1" height="11.1" fill="#005c00" stroke="#002800" stroke-width="0.4"/>
<rect x="375.27" y="216.4" width="2.1" height="5.0" fill="#ff0000" stroke="#8a0000" stroke-width="0.4"/>
<line x1="379.20" y1="218.0" x2="381.60" y2="218.0" stroke="#333" stroke-width="0.8"/>
<rect x="383.42" y="207.8" width="2.1" height="9.9" fill="#005c00" stroke="#002800" stroke-width="0.4"/>
<rect x="387.49" y="203.5" width="2.1" height="3.3" fill="#005c00" stroke="#002800" stroke-width="0.4"/>
<rect x="391.56" y="203.5" width="2.1" height="2.6" fill="#ff0000" stroke="#8a0000" stroke-width="0.4"/>
<rect x="395.63" y="195.7" width="2.1" height="10.8" fill="#005c00" stroke="#002800" stroke-width="0.4"/>
<rect x="399.71" y="195.7" width="2.1" height="2.5" fill="#ff0000" stroke="#8a0000" stroke-width="0.4"/>
<rect x="403.78" y="198.2" width="2.1" height="6.9" fill="#ff0000" stroke="#8a0000" stroke-width="0.4"/>
<rect x="407.85" y="204.8" width="2.1" height="2.5" fill="#ff0000" stroke="#8a0000" stroke-width="0.4"/>
<rect x="411.92" y="202.8" width="2.1" height="4.5" fill="#005c00" stroke="#002800" stroke-width="0.4"/>
<rect x="415.99" y="202.6" width="2.1" height="3.9" fill="#ff0000" stroke="#8a0000" stroke-width="0.4"/>
<rect x="420.07" y="192.2" width="2.1" height="14.0" fill="#005c00" stroke="#002800" stroke-width="0.4"/>
<rect x="424.14" y="191.7" width="2.1" height="5.2" fill="#ff0000" stroke="#8a0000" stroke-width="0.4"/>
<rect x="428.21" y="193.3" width="2.1" height="3.6" fill="#005c00" stroke="#002800" stroke-width="0.4"/>
<rect x="432.28" y="193.1" width="2.1" height="3.6" fill="#ff0000" stroke="#8a0000" stroke-width="0.4"/>
<rect x="436.35" y="196.6" width="2.1" height="7.0" fill="#ff0000" stroke="#8a0000" stroke-width="0.4"/>
<rect x="440.43" y="200.3" width="2.1" height="2.7" fill="#005c00" stroke="#002800" stroke-width="0.4"/>
<line x1="444.35" y1="201.0" x2="446.75" y2="201.0" stroke="#333" stroke-width="0.8"/>
<rect x="448.57" y="196.0" width="2.1" height="5.6" fill="#005c00" stroke="#002800" stroke-width="0.4"/>
<rect x="452.64" y="190.8" width="2.1" height="5.3" fill="#005c00" stroke="#002800" stroke-width="0.4"/>
<rect x="456.71" y="183.3" width="2.1" height="7.7" fill="#005c00" stroke="#002800" stroke-width="0.4"/>
<rect x="460.79" y="182.0" width="2.1" height="8.5" fill="#ff0000" stroke="#8a0000" stroke-width="0.4"/>
<line x1="464.71" y1="190.3" x2="467.11" y2="190.3" stroke="#333" stroke-width="0.8"/>
<rect x="468.93" y="190.2" width="2.1" height="3.7" fill="#ff0000" stroke="#8a0000" stroke-width="0.4"/>
<line x1="472.85" y1="192.5" x2="475.25" y2="192.5" stroke="#333" stroke-width="0.8"/>
<line x1="476.92" y1="193.3" x2="479.32" y2="193.3" stroke="#333" stroke-width="0.8"/>
<rect x="481.15" y="188.7" width="2.1" height="5.4" fill="#ff0000" stroke="#8a0000" stroke-width="0.4"/>
<rect x="485.22" y="194.1" width="2.1" height="7.7" fill="#ff0000" stroke="#8a0000" stroke-width="0.4"/>
<rect x="489.29" y="200.2" width="2.1" height="1.4" fill="#005c00" stroke="#002800" stroke-width="0.4"/>
<line x1="493.21" y1="201.0" x2="495.61" y2="201.0" stroke="#333" stroke-width="0.8"/>
<rect x="497.43" y="201.0" width="2.1" height="7.8" fill="#ff0000" stroke="#8a0000" stroke-width="0.4"/>
<rect x="501.51" y="204.9" width="2.1" height="5.4" fill="#005c00" stroke="#002800" stroke-width="0.4"/>
<rect x="505.58" y="199.5" width="2.1" height="6.2" fill="#005c00" stroke="#002800" stroke-width="0.4"/>
<rect x="509.65" y="196.0" width="2.1" height="2.0" fill="#005c00" stroke="#002800" stroke-width="0.4"/>
<rect x="513.72" y="196.4" width="2.1" height="4.6" fill="#ff0000" stroke="#8a0000" stroke-width="0.4"/>
<rect x="517.79" y="198.7" width="2.1" height="1.9" fill="#005c00" stroke="#002800" stroke-width="0.4"/>
<line x1="521.72" y1="199.5" x2="524.12" y2="199.5" stroke="#333" stroke-width="0.8"/>
<rect x="525.94" y="199.5" width="2.1" height="6.2" fill="#ff0000" stroke="#8a0000" stroke-width="0.4"/>
<rect x="530.01" y="203.0" width="2.1" height="2.0" fill="#005c00" stroke="#002800" stroke-width="0.4"/>
<rect x="534.08" y="201.0" width="2.1" height="1.6" fill="#005c00" stroke="#002800" stroke-width="0.4"/>
<rect x="538.15" y="196.0" width="2.1" height="5.0" fill="#005c00" stroke="#002800" stroke-width="0.4"/>
<rect x="542.23" y="193.5" width="2.1" height="4.7" fill="#ff0000" stroke="#8a0000" stroke-width="0.4"/>
<rect x="546.30" y="198.3" width="2.1" height="3.1" fill="#ff0000" stroke="#8a0000" stroke-width="0.4"/>
<rect x="550.37" y="197.5" width="2.1" height="3.9" fill="#005c00" stroke="#002800" stroke-width="0.4"/>
<rect x="554.44" y="197.5" width="2.1" height="1.9" fill="#ff0000" stroke="#8a0000" stroke-width="0.4"/>
<rect x="558.51" y="196.8" width="2.1" height="2.2" fill="#005c00" stroke="#002800" stroke-width="0.4"/>
<rect x="562.59" y="189.0" width="2.1" height="8.5" fill="#005c00" stroke="#002800" stroke-width="0.4"/>
<rect x="566.66" y="183.3" width="2.1" height="5.7" fill="#005c00" stroke="#002800" stroke-width="0.4"/>
<rect x="570.73" y="183.3" width="2.1" height="7.3" fill="#ff0000" stroke="#8a0000" stroke-width="0.4"/>
<rect x="574.80" y="191.0" width="2.1" height="3.1" fill="#ff0000" stroke="#8a0000" stroke-width="0.4"/>
<rect x="578.87" y="194.4" width="2.1" height="4.4" fill="#ff0000" stroke="#8a0000" stroke-width="0.4"/>
<rect x="582.95" y="199.4" width="2.1" height="4.0" fill="#ff0000" stroke="#8a0000" stroke-width="0.4"/>
<rect x="587.02" y="200.6" width="2.1" height="2.8" fill="#005c00" stroke="#002800" stroke-width="0.4"/>
<rect x="591.09" y="200.9" width="2.1" height="8.2" fill="#ff0000" stroke="#8a0000" stroke-width="0.4"/>
<rect x="595.16" y="207.1" width="2.1" height="3.1" fill="#005c00" stroke="#002800" stroke-width="0.4"/>
<rect x="599.23" y="195.2" width="2.1" height="11.9" fill="#005c00" stroke="#002800" stroke-width="0.4"/>
<rect x="603.31" y="192.7" width="2.1" height="1.5" fill="#005c00" stroke="#002800" stroke-width="0.4"/>
<line x1="607.23" y1="192.9" x2="609.63" y2="192.9" stroke="#333" stroke-width="0.8"/>
<rect x="611.45" y="192.1" width="2.1" height="2.0" fill="#ff0000" stroke="#8a0000" stroke-width="0.4"/>
<rect x="615.52" y="189.0" width="2.1" height="5.1" fill="#005c00" stroke="#002800" stroke-width="0.4"/>
<line x1="619.44" y1="189.0" x2="621.84" y2="189.0" stroke="#333" stroke-width="0.8"/>
<rect x="623.67" y="189.0" width="2.1" height="8.8" fill="#ff0000" stroke="#8a0000" stroke-width="0.4"/>
<line x1="627.59" y1="197.3" x2="629.99" y2="197.3" stroke="#333" stroke-width="0.8"/>
<rect x="631.81" y="195.6" width="2.1" height="1.7" fill="#005c00" stroke="#002800" stroke-width="0.4"/>
<rect x="635.88" y="196.5" width="2.1" height="2.9" fill="#ff0000" stroke="#8a0000" stroke-width="0.4"/>
<line x1="639.80" y1="198.2" x2="642.20" y2="198.2" stroke="#333" stroke-width="0.8"/>
<rect x="644.03" y="198.5" width="2.1" height="1.6" fill="#ff0000" stroke="#8a0000" stroke-width="0.4"/>
<rect x="648.10" y="200.1" width="2.1" height="2.7" fill="#ff0000" stroke="#8a0000" stroke-width="0.4"/>
<rect x="652.17" y="197.3" width="2.1" height="5.5" fill="#005c00" stroke="#002800" stroke-width="0.4"/>
<rect x="656.24" y="197.3" width="2.1" height="1.7" fill="#ff0000" stroke="#8a0000" stroke-width="0.4"/>
<rect x="660.31" y="193.1" width="2.1" height="5.9" fill="#005c00" stroke="#002800" stroke-width="0.4"/>
<rect x="664.39" y="192.8" width="2.1" height="1.7" fill="#ff0000" stroke="#8a0000" stroke-width="0.4"/>
<rect x="668.46" y="190.1" width="2.1" height="4.7" fill="#005c00" stroke="#002800" stroke-width="0.4"/>
<line x1="672.38" y1="189.2" x2="674.78" y2="189.2" stroke="#333" stroke-width="0.8"/>
<rect x="676.60" y="185.7" width="2.1" height="3.3" fill="#005c00" stroke="#002800" stroke-width="0.4"/>
<rect x="680.67" y="180.7" width="2.1" height="5.0" fill="#005c00" stroke="#002800" stroke-width="0.4"/>
<rect x="684.75" y="175.2" width="2.1" height="5.5" fill="#005c00" stroke="#002800" stroke-width="0.4"/>
<rect x="688.82" y="165.7" width="2.1" height="10.0" fill="#005c00" stroke="#002800" stroke-width="0.4"/>
<rect x="692.89" y="160.8" width="2.1" height="5.4" fill="#005c00" stroke="#002800" stroke-width="0.4"/>
<rect x="696.96" y="161.6" width="2.1" height="2.5" fill="#ff0000" stroke="#8a0000" stroke-width="0.4"/>
<rect x="701.03" y="156.6" width="2.1" height="7.5" fill="#005c00" stroke="#002800" stroke-width="0.4"/>
<rect x="705.11" y="148.8" width="2.1" height="9.6" fill="#005c00" stroke="#002800" stroke-width="0.4"/>
<rect x="709.18" y="148.4" width="2.1" height="2.0" fill="#ff0000" stroke="#8a0000" stroke-width="0.4"/>
<rect x="713.25" y="147.7" width="2.1" height="3.4" fill="#005c00" stroke="#002800" stroke-width="0.4"/>
<line x1="717.17" y1="148.4" x2="719.57" y2="148.4" stroke="#333" stroke-width="0.8"/>
<rect x="721.39" y="146.9" width="2.1" height="2.6" fill="#005c00" stroke="#002800" stroke-width="0.4"/>
<rect x="725.47" y="141.2" width="2.1" height="6.5" fill="#005c00" stroke="#002800" stroke-width="0.4"/>
<rect x="729.54" y="139.6" width="2.1" height="1.6" fill="#005c00" stroke="#002800" stroke-width="0.4"/>
<rect x="733.61" y="139.9" width="2.1" height="5.0" fill="#ff0000" stroke="#8a0000" stroke-width="0.4"/>
<rect x="737.68" y="144.9" width="2.1" height="2.4" fill="#ff0000" stroke="#8a0000" stroke-width="0.4"/>
<rect x="741.75" y="140.2" width="2.1" height="6.7" fill="#005c00" stroke="#002800" stroke-width="0.4"/>
<rect x="745.83" y="129.8" width="2.1" height="10.1" fill="#005c00" stroke="#002800" stroke-width="0.4"/>
<rect x="749.90" y="126.7" width="2.1" height="3.1" fill="#005c00" stroke="#002800" stroke-width="0.4"/>
<rect x="753.97" y="127.2" width="2.1" height="4.2" fill="#ff0000" stroke="#8a0000" stroke-width="0.4"/>
<rect x="758.04" y="128.8" width="2.1" height="3.4" fill="#005c00" stroke="#002800" stroke-width="0.4"/>
<rect x="762.11" y="127.5" width="2.1" height="2.3" fill="#005c00" stroke="#002800" stroke-width="0.4"/>
<rect x="766.19" y="115.1" width="2.1" height="13.2" fill="#005c00" stroke="#002800" stroke-width="0.4"/>
<rect x="770.26" y="110.5" width="2.1" height="4.3" fill="#005c00" stroke="#002800" stroke-width="0.4"/>
<line x1="774.18" y1="110.1" x2="776.58" y2="110.1" stroke="#333" stroke-width="0.8"/>
<rect x="778.40" y="109.9" width="2.1" height="1.3" fill="#ff0000" stroke="#8a0000" stroke-width="0.4"/>
<rect x="782.47" y="106.2" width="2.1" height="5.5" fill="#005c00" stroke="#002800" stroke-width="0.4"/>
<rect x="786.55" y="93.9" width="2.1" height="12.3" fill="#005c00" stroke="#002800" stroke-width="0.4"/>
<rect x="790.62" y="88.9" width="2.1" height="5.0" fill="#005c00" stroke="#002800" stroke-width="0.4"/>
<rect x="794.69" y="80.3" width="2.1" height="9.3" fill="#005c00" stroke="#002800" stroke-width="0.4"/>
<rect x="798.76" y="79.6" width="2.1" height="10.6" fill="#ff0000" stroke="#8a0000" stroke-width="0.4"/>
<line x1="802.68" y1="90.9" x2="805.08" y2="90.9" stroke="#333" stroke-width="0.8"/>
<line x1="1.3" y1="321.2" x2="816.3" y2="174.7" stroke="#000" stroke-width="1.45" stroke-linecap="round"/>
<line x1="1.3" y1="322.6" x2="119.4" y2="308.9" stroke="#000" stroke-width="1.45" stroke-linecap="round"/>
<line x1="372" y1="235.4" x2="510.7" y2="176.9" stroke="#000" stroke-width="1.45" stroke-linecap="round"/>
<line x1="461.2" y1="179.8" x2="523" y2="206.6" stroke="#000" stroke-width="1.45" stroke-linecap="round"/>
<line x1="498.5" y1="215.5" x2="604.3" y2="189.8" stroke="#000" stroke-width="1.45" stroke-linecap="round"/>
<line x1="661.5" y1="203.3" x2="816" y2="98.1" stroke="#000" stroke-width="1.45" stroke-linecap="round"/>
<ellipse cx="372.5" cy="234.7" rx="3" ry="4.6" fill="none" stroke="#1fd41f" stroke-width="1.4"/>
<ellipse cx="396.7" cy="195.6" rx="3" ry="5" fill="none" stroke="#ff0000" stroke-width="1.4"/>
<ellipse cx="413.1" cy="214" rx="3" ry="5.5" fill="none" stroke="#1fd41f" stroke-width="1.4"/>
<ellipse cx="433.3" cy="187.9" rx="3.2" ry="5.8" fill="none" stroke="#ff0000" stroke-width="1.4"/>
<ellipse cx="441.4" cy="205.2" rx="3.2" ry="6" fill="none" stroke="#1fd41f" stroke-width="1.4"/>
<ellipse cx="461.7" cy="181" rx="3.1" ry="6" fill="none" stroke="#ff0000" stroke-width="1.4"/>
<text class="big" x="949.4" y="14.2" text-anchor="end" fill="#ff0000" textLength="59.4" lengthAdjust="spacingAndGlyphs">R3 - 4400</text>
<text class="big" x="949.4" y="49.4" text-anchor="end" fill="#ff0000" textLength="59.4" lengthAdjust="spacingAndGlyphs">R2 - 4200</text>
<text class="big" x="949.4" y="82.0" text-anchor="end" fill="#ff0000" textLength="59.4" lengthAdjust="spacingAndGlyphs">R1 - 4000</text>
<text class="big" x="949.4" y="127.4" text-anchor="end" fill="#006400" textLength="59.4" lengthAdjust="spacingAndGlyphs">S1 - 3850</text>
<text class="big" x="949.4" y="150.6" text-anchor="end" fill="#006400" textLength="59.4" lengthAdjust="spacingAndGlyphs">S2 - 3710</text>
<text class="big" x="949.4" y="173.3" text-anchor="end" fill="#006400" textLength="59.4" lengthAdjust="spacingAndGlyphs">S3 - 3575</text>
<path d="M3.1,4.2 L6.9,4.2 L5,6.4 Z" fill="#000"/>
<text class="th" x="9.1" y="7.0" style="font-size:5px;fill:#1a1a2a" textLength="32.2" lengthAdjust="spacingAndGlyphs">XAUUSD,Daily</text>
<text class="th" x="45.1" y="7.0" style="font-size:5px;fill:#1a1a2a" textLength="16.7" lengthAdjust="spacingAndGlyphs">3974.66</text>
<text class="th" x="63.4" y="7.0" style="font-size:5px;fill:#1a1a2a" textLength="16.7" lengthAdjust="spacingAndGlyphs">3994.25</text>
<text class="th" x="81.8" y="7.0" style="font-size:5px;fill:#1a1a2a" textLength="16.7" lengthAdjust="spacingAndGlyphs">3946.84</text>
<text class="th" x="99.9" y="7.0" style="font-size:5px;fill:#1a1a2a" textLength="16.7" lengthAdjust="spacingAndGlyphs">3973.27</text>
</g>
<g clip-path="url(#cr)">
<line x1="2" y1="405.17" x2="951" y2="405.17" stroke="#bdbdbd" stroke-width="0.9" stroke-dasharray="1.2 1.85"/>
<line x1="2" y1="415.52" x2="951" y2="415.52" stroke="#bdbdbd" stroke-width="0.9" stroke-dasharray="1.2 1.85"/>
<line x1="2" y1="425.88" x2="951" y2="425.88" stroke="#bdbdbd" stroke-width="0.9" stroke-dasharray="1.2 1.85"/>
<polyline points="1.4,414.4 5.5,413.3 9.5,412.3 13.6,410.5 17.7,413.7 21.8,412.3 25.8,410.9 29.9,409.3 34.0,410.9 38.0,410.2 42.1,407.5 46.2,406.4 50.3,407.2 54.3,405.4 58.4,409.5 62.5,408.6 66.6,409.1 70.6,406.8 74.7,405.8 78.8,404.7 82.8,403.0 86.9,401.5 91.0,403.6 95.1,403.0 99.1,400.8 103.2,402.6 107.3,402.2 111.3,401.2 115.4,407.2 119.5,405.8 123.6,404.4 127.6,405.0 131.7,404.6 135.8,405.0 139.8,403.3 143.9,408.2 148.0,408.6 152.1,412.3 156.1,415.1 160.2,412.3 164.3,410.2 168.4,410.2 172.4,411.3 176.5,411.6 180.6,413.7 184.6,411.3 188.7,410.0 192.8,406.4 196.9,407.2 200.9,405.8 205.0,404.0 209.1,403.3 213.1,403.6 217.2,405.8 221.3,408.2 225.4,407.5 229.4,407.5 233.5,405.4 237.6,403.6 241.6,401.2 245.7,402.6 249.8,401.2 253.9,404.7 257.9,412.3 262.0,416.8 266.1,416.9 270.2,411.6 274.2,407.2 278.3,404.7 282.4,406.4 286.4,405.8 290.5,402.6 294.6,403.3 298.7,401.6 302.7,403.6 306.8,409.1 310.9,407.7 314.9,409.1 319.0,408.6 323.1,409.5 327.2,411.3 331.2,413.7 335.3,413.7 339.4,410.0 343.4,407.5 347.5,410.0 351.6,412.7 355.7,412.3 359.7,415.8 363.8,415.5 367.9,417.9 372.0,415.5 376.0,416.9 380.1,415.8 384.2,413.3 388.2,412.7 392.3,413.0 396.4,411.3 400.5,411.9 404.5,413.7 408.6,414.7 412.7,413.3 416.7,415.1 420.8,410.9 424.9,412.3 429.0,411.9 433.0,413.0 437.1,415.1 441.2,413.7 445.2,414.4 449.3,412.7 453.4,410.9 457.5,409.1 461.5,412.3 465.6,411.9 469.7,413.3 473.8,413.3 477.8,413.3 481.9,413.3 486.0,416.5 490.0,416.1 494.1,416.1 498.2,419.2 502.3,416.9 506.3,415.1 510.4,413.3 514.5,415.8 518.5,415.1 522.6,415.3 526.7,417.9 530.8,416.9 534.8,415.8 538.9,413.3 543.0,414.4 547.0,416.1 551.1,414.4 555.2,415.1 559.3,414.1 563.3,410.9 567.4,408.2 571.5,411.9 575.6,413.7 579.6,415.8 583.7,418.3 587.8,417.2 591.8,420.6 595.9,419.2 600.0,414.4 604.1,413.3 608.1,412.7 612.2,413.3 616.3,411.9 620.3,411.3 624.4,415.8 628.5,416.1 632.6,415.1 636.6,416.9 640.7,416.9 644.8,417.2 648.8,418.5 652.9,415.4 657.0,416.2 661.1,412.8 665.1,413.4 669.2,411.7 673.3,410.6 677.4,409.5 681.4,407.3 685.5,405.6 689.6,402.7 693.6,401.5 697.7,403.2 701.8,401.5 705.9,400.2 709.9,401.0 714.0,400.5 718.1,401.5 722.1,401.0 726.2,399.8 730.3,399.3 734.4,402.7 738.4,404.9 742.5,403.2 746.6,401.0 750.6,400.5 754.7,403.2 758.8,402.7 762.9,402.2 766.9,400.5 771.0,399.3 775.1,399.3 779.2,400.5 783.2,399.8 787.3,397.6 791.4,397.1 795.4,395.9 799.5,402.2 803.6,402.7" fill="none" stroke="#575757" stroke-width="1.15" stroke-linejoin="round" stroke-linecap="round"/>
<text class="th" x="3.8" y="395.6" style="font-size:5.2px;fill:#1a1a2a" textLength="34.4" lengthAdjust="spacingAndGlyphs">RSI(14) 74.3847</text>
</g>
<rect x="1" y="1" width="951" height="1" fill="#8c8c8c"/>
<rect x="1" y="1" width="1" height="441" fill="#8c8c8c"/>
<rect x="951" y="1" width="1" height="441" fill="#9a9a9a"/>
<rect x="952" y="1" width="1" height="441" fill="#d4d4d4"/>
<rect x="1" y="387" width="951" height="1" fill="#b4b4b4"/>
<rect x="1" y="388" width="951" height="1" fill="#5e5e5e"/>
<rect x="1" y="389" width="951" height="1" fill="#b4b4b4"/>
<rect x="1" y="441" width="951" height="1" fill="#888888"/>
<line x1="952" y1="33.7" x2="953" y2="33.7" stroke="#444" stroke-width="0.8"/>
<text class="ax th" x="954.6" y="35.4" textLength="16.7" lengthAdjust="spacingAndGlyphs">4314.50</text>
<line x1="952" y1="67.5" x2="953" y2="67.5" stroke="#444" stroke-width="0.8"/>
<text class="ax th" x="954.6" y="69.2" textLength="16.7" lengthAdjust="spacingAndGlyphs">4113.90</text>
<line x1="952" y1="101.3" x2="953" y2="101.3" stroke="#444" stroke-width="0.8"/>
<text class="ax th" x="954.6" y="103.0" textLength="16.7" lengthAdjust="spacingAndGlyphs">3916.25</text>
<line x1="952" y1="117.6" x2="953" y2="117.6" stroke="#444" stroke-width="0.8"/>
<text class="ax th" x="954.6" y="119.3" textLength="16.7" lengthAdjust="spacingAndGlyphs">3818.90</text>
<line x1="952" y1="151.5" x2="953" y2="151.5" stroke="#444" stroke-width="0.8"/>
<text class="ax th" x="954.6" y="153.2" textLength="16.7" lengthAdjust="spacingAndGlyphs">3621.25</text>
<line x1="952" y1="168.1" x2="953" y2="168.1" stroke="#444" stroke-width="0.8"/>
<text class="ax th" x="954.6" y="169.8" textLength="16.7" lengthAdjust="spacingAndGlyphs">3520.95</text>
<line x1="952" y1="185.1" x2="953" y2="185.1" stroke="#444" stroke-width="0.8"/>
<text class="ax th" x="954.6" y="186.8" textLength="16.7" lengthAdjust="spacingAndGlyphs">3420.65</text>
<line x1="952" y1="202.1" x2="953" y2="202.1" stroke="#444" stroke-width="0.8"/>
<text class="ax th" x="954.6" y="203.8" textLength="16.7" lengthAdjust="spacingAndGlyphs">3323.30</text>
<line x1="952" y1="218.0" x2="953" y2="218.0" stroke="#444" stroke-width="0.8"/>
<text class="ax th" x="954.6" y="219.7" textLength="16.7" lengthAdjust="spacingAndGlyphs">3223.00</text>
<line x1="952" y1="252.2" x2="953" y2="252.2" stroke="#444" stroke-width="0.8"/>
<text class="ax th" x="954.6" y="253.9" textLength="16.7" lengthAdjust="spacingAndGlyphs">3025.35</text>
<line x1="952" y1="267.9" x2="953" y2="267.9" stroke="#444" stroke-width="0.8"/>
<text class="ax th" x="954.6" y="269.6" textLength="16.7" lengthAdjust="spacingAndGlyphs">2928.00</text>
<line x1="952" y1="286.0" x2="953" y2="286.0" stroke="#444" stroke-width="0.8"/>
<text class="ax th" x="954.6" y="287.7" textLength="16.7" lengthAdjust="spacingAndGlyphs">2830.70</text>
<line x1="952" y1="302.4" x2="953" y2="302.4" stroke="#444" stroke-width="0.8"/>
<text class="ax th" x="954.6" y="304.1" textLength="16.7" lengthAdjust="spacingAndGlyphs">2727.40</text>
<line x1="952" y1="319.2" x2="953" y2="319.2" stroke="#444" stroke-width="0.8"/>
<text class="ax th" x="954.6" y="320.9" textLength="16.7" lengthAdjust="spacingAndGlyphs">2630.05</text>
<line x1="952" y1="336.0" x2="953" y2="336.0" stroke="#444" stroke-width="0.8"/>
<text class="ax th" x="954.6" y="337.7" textLength="16.7" lengthAdjust="spacingAndGlyphs">2532.70</text>
<line x1="952" y1="352.9" x2="953" y2="352.9" stroke="#444" stroke-width="0.8"/>
<text class="ax th" x="954.6" y="354.6" textLength="16.7" lengthAdjust="spacingAndGlyphs">2432.40</text>
<line x1="952" y1="369.7" x2="953" y2="369.7" stroke="#444" stroke-width="0.8"/>
<text class="ax th" x="954.6" y="371.4" textLength="16.7" lengthAdjust="spacingAndGlyphs">2332.10</text>
<line x1="952" y1="386.7" x2="953" y2="386.7" stroke="#444" stroke-width="0.8"/>
<text class="ax th" x="954.6" y="388.4" textLength="16.7" lengthAdjust="spacingAndGlyphs">2234.75</text>
<line x1="952" y1="16.6" x2="953" y2="16.6" stroke="#444" stroke-width="0.8"/>
<text class="ax th" x="954.6" y="18.3" textLength="16.7" lengthAdjust="spacingAndGlyphs">4414.60</text>
<line x1="952" y1="50.2" x2="953" y2="50.2" stroke="#444" stroke-width="0.8"/>
<text class="ax th" x="954.6" y="51.9" textLength="16.7" lengthAdjust="spacingAndGlyphs">4216.20</text>
<line x1="952" y1="84.3" x2="953" y2="84.3" stroke="#444" stroke-width="0.8"/>
<text class="ax th" x="954.6" y="86.0" textLength="16.7" lengthAdjust="spacingAndGlyphs">4015.20</text>
<line x1="952" y1="235.0" x2="953" y2="235.0" stroke="#444" stroke-width="0.8"/>
<text class="ax th" x="954.6" y="236.7" textLength="16.7" lengthAdjust="spacingAndGlyphs">3125.00</text>
<rect x="952.4" y="88.75" width="21.2" height="5.5" fill="#000000"/>
<text class="bl" x="954.6" y="93.10" textLength="16.6" lengthAdjust="spacingAndGlyphs">3973.27</text>
<rect x="952.4" y="15.72" width="21.2" height="5.5" fill="#ff0000"/>
<text class="bl" x="954.6" y="20.07" textLength="16.6" lengthAdjust="spacingAndGlyphs">4400.00</text>
<rect x="952.4" y="49.75" width="21.2" height="5.5" fill="#ff0000"/>
<text class="bl" x="954.6" y="54.10" textLength="16.6" lengthAdjust="spacingAndGlyphs">4200.00</text>
<rect x="952.4" y="83.58" width="21.2" height="5.5" fill="#ff0000"/>
<text class="bl" x="954.6" y="87.93" textLength="16.6" lengthAdjust="spacingAndGlyphs">4000.00</text>
<rect x="952.4" y="109.01" width="21.2" height="5.5" fill="#006400"/>
<text class="bl" x="954.6" y="113.36" textLength="16.6" lengthAdjust="spacingAndGlyphs">3850.00</text>
<rect x="952.4" y="132.85" width="21.2" height="5.5" fill="#006400"/>
<text class="bl" x="954.6" y="137.20" textLength="16.6" lengthAdjust="spacingAndGlyphs">3710.00</text>
<rect x="952.4" y="155.68" width="21.2" height="5.5" fill="#006400"/>
<text class="bl" x="954.6" y="160.03" textLength="16.6" lengthAdjust="spacingAndGlyphs">3575.00</text>
<rect x="952.4" y="176.89" width="21.2" height="5.5" fill="#006400"/>
<text class="bl" x="954.6" y="181.24" textLength="16.6" lengthAdjust="spacingAndGlyphs">3450.00</text>
<rect x="952.4" y="211.67" width="21.2" height="5.5" fill="#006400"/>
<text class="bl" x="954.6" y="216.02" textLength="16.6" lengthAdjust="spacingAndGlyphs">3245.00</text>
<rect x="952.4" y="232.87" width="21.2" height="5.5" fill="#006400"/>
<text class="bl" x="954.6" y="237.22" textLength="16.6" lengthAdjust="spacingAndGlyphs">3120.00</text>
<rect x="952.4" y="261.05" width="21.2" height="5.5" fill="#006400"/>
<text class="bl" x="954.6" y="265.40" textLength="16.6" lengthAdjust="spacingAndGlyphs">2955.00</text>
<rect x="952.4" y="281.22" width="21.2" height="5.5" fill="#006400"/>
<text class="bl" x="954.6" y="285.57" textLength="16.6" lengthAdjust="spacingAndGlyphs">2835.00</text>
<rect x="952.4" y="306.85" width="21.2" height="5.5" fill="#006400"/>
<text class="bl" x="954.6" y="311.20" textLength="16.6" lengthAdjust="spacingAndGlyphs">2685.00</text>
<rect x="952.4" y="330.95" width="21.2" height="5.5" fill="#006400"/>
<text class="bl" x="954.6" y="335.30" textLength="16.6" lengthAdjust="spacingAndGlyphs">2540.00</text>
<line x1="952" y1="392.7" x2="953" y2="392.7" stroke="#444" stroke-width="0.8"/>
<text class="ax th" x="953.6" y="394.4">100</text>
<line x1="952" y1="405.2" x2="953" y2="405.2" stroke="#444" stroke-width="0.8"/>
<text class="ax th" x="953.6" y="406.9">70</text>
<line x1="952" y1="415.4" x2="953" y2="415.4" stroke="#444" stroke-width="0.8"/>
<text class="ax th" x="953.6" y="417.1">50</text>
<line x1="952" y1="425.9" x2="953" y2="425.9" stroke="#444" stroke-width="0.8"/>
<text class="ax th" x="953.6" y="427.6">30</text>
<line x1="952" y1="438.1" x2="953" y2="438.1" stroke="#444" stroke-width="0.8"/>
<text class="ax th" x="953.6" y="439.8">0</text>
<line x1="1.40" y1="441" x2="1.40" y2="443.2" stroke="#333" stroke-width="0.8"/>
<text class="dt th" x="1.10" y="447.9" textLength="23.07" lengthAdjust="spacingAndGlyphs">7 Jan 2025</text>
<line x1="33.98" y1="441" x2="33.98" y2="443.2" stroke="#333" stroke-width="0.8"/>
<text class="dt th" x="33.68" y="447.9" textLength="25.67" lengthAdjust="spacingAndGlyphs">17 Jan 2025</text>
<line x1="66.56" y1="441" x2="66.56" y2="443.2" stroke="#333" stroke-width="0.8"/>
<text class="dt th" x="66.26" y="447.9" textLength="25.67" lengthAdjust="spacingAndGlyphs">29 Jan 2025</text>
<line x1="99.14" y1="441" x2="99.14" y2="443.2" stroke="#333" stroke-width="0.8"/>
<text class="dt th" x="98.84" y="447.9" textLength="26.18" lengthAdjust="spacingAndGlyphs">10 Feb 2025</text>
<line x1="131.72" y1="441" x2="131.72" y2="443.2" stroke="#333" stroke-width="0.8"/>
<text class="dt th" x="131.42" y="447.9" textLength="26.18" lengthAdjust="spacingAndGlyphs">20 Feb 2025</text>
<line x1="164.30" y1="441" x2="164.30" y2="443.2" stroke="#333" stroke-width="0.8"/>
<text class="dt th" x="164.00" y="447.9" textLength="23.58" lengthAdjust="spacingAndGlyphs">4 Mar 2025</text>
<line x1="196.88" y1="441" x2="196.88" y2="443.2" stroke="#333" stroke-width="0.8"/>
<text class="dt th" x="196.58" y="447.9" textLength="26.18" lengthAdjust="spacingAndGlyphs">14 Mar 2025</text>
<line x1="229.46" y1="441" x2="229.46" y2="443.2" stroke="#333" stroke-width="0.8"/>
<text class="dt th" x="229.16" y="447.9" textLength="26.18" lengthAdjust="spacingAndGlyphs">26 Mar 2025</text>
<line x1="262.04" y1="441" x2="262.04" y2="443.2" stroke="#333" stroke-width="0.8"/>
<text class="dt th" x="261.74" y="447.9" textLength="22.55" lengthAdjust="spacingAndGlyphs">7 Apr 2025</text>
<line x1="294.62" y1="441" x2="294.62" y2="443.2" stroke="#333" stroke-width="0.8"/>
<text class="dt th" x="294.32" y="447.9" textLength="25.15" lengthAdjust="spacingAndGlyphs">17 Apr 2025</text>
<line x1="327.20" y1="441" x2="327.20" y2="443.2" stroke="#333" stroke-width="0.8"/>
<text class="dt th" x="326.90" y="447.9" textLength="25.15" lengthAdjust="spacingAndGlyphs">30 Apr 2025</text>
<line x1="359.78" y1="441" x2="359.78" y2="443.2" stroke="#333" stroke-width="0.8"/>
<text class="dt th" x="359.48" y="447.9" textLength="26.96" lengthAdjust="spacingAndGlyphs">12 May 2025</text>
<line x1="392.36" y1="441" x2="392.36" y2="443.2" stroke="#333" stroke-width="0.8"/>
<text class="dt th" x="392.06" y="447.9" textLength="26.96" lengthAdjust="spacingAndGlyphs">22 May 2025</text>
<line x1="424.94" y1="441" x2="424.94" y2="443.2" stroke="#333" stroke-width="0.8"/>
<text class="dt th" x="424.64" y="447.9" textLength="23.07" lengthAdjust="spacingAndGlyphs">3 Jun 2025</text>
<line x1="457.52" y1="441" x2="457.52" y2="443.2" stroke="#333" stroke-width="0.8"/>
<text class="dt th" x="457.22" y="447.9" textLength="25.67" lengthAdjust="spacingAndGlyphs">13 Jun 2025</text>
<line x1="490.10" y1="441" x2="490.10" y2="443.2" stroke="#333" stroke-width="0.8"/>
<text class="dt th" x="489.80" y="447.9" textLength="25.67" lengthAdjust="spacingAndGlyphs">25 Jun 2025</text>
<line x1="522.68" y1="441" x2="522.68" y2="443.2" stroke="#333" stroke-width="0.8"/>
<text class="dt th" x="522.38" y="447.9" textLength="21.52" lengthAdjust="spacingAndGlyphs">7 Jul 2025</text>
<line x1="555.26" y1="441" x2="555.26" y2="443.2" stroke="#333" stroke-width="0.8"/>
<text class="dt th" x="554.96" y="447.9" textLength="24.10" lengthAdjust="spacingAndGlyphs">17 Jul 2025</text>
<line x1="587.84" y1="441" x2="587.84" y2="443.2" stroke="#333" stroke-width="0.8"/>
<text class="dt th" x="587.54" y="447.9" textLength="24.10" lengthAdjust="spacingAndGlyphs">29 Jul 2025</text>
<line x1="620.42" y1="441" x2="620.42" y2="443.2" stroke="#333" stroke-width="0.8"/>
<text class="dt th" x="620.12" y="447.9" textLength="23.59" lengthAdjust="spacingAndGlyphs">8 Aug 2025</text>
<line x1="653.00" y1="441" x2="653.00" y2="443.2" stroke="#333" stroke-width="0.8"/>
<text class="dt th" x="652.70" y="447.9" textLength="26.19" lengthAdjust="spacingAndGlyphs">20 Aug 2025</text>
<line x1="685.58" y1="441" x2="685.58" y2="443.2" stroke="#333" stroke-width="0.8"/>
<text class="dt th" x="685.28" y="447.9" textLength="23.86" lengthAdjust="spacingAndGlyphs">1 Sep 2025</text>
<line x1="718.16" y1="441" x2="718.16" y2="443.2" stroke="#333" stroke-width="0.8"/>
<text class="dt th" x="717.86" y="447.9" textLength="26.10" lengthAdjust="spacingAndGlyphs">11 Sep 2025</text>
<line x1="750.74" y1="441" x2="750.74" y2="443.2" stroke="#333" stroke-width="0.8"/>
<text class="dt th" x="750.44" y="447.9" textLength="26.44" lengthAdjust="spacingAndGlyphs">23 Sep 2025</text>
<line x1="783.32" y1="441" x2="783.32" y2="443.2" stroke="#333" stroke-width="0.8"/>
<text class="dt th" x="783.02" y="447.9" textLength="22.81" lengthAdjust="spacingAndGlyphs">3 Oct 2025</text>
</svg></body></html>
